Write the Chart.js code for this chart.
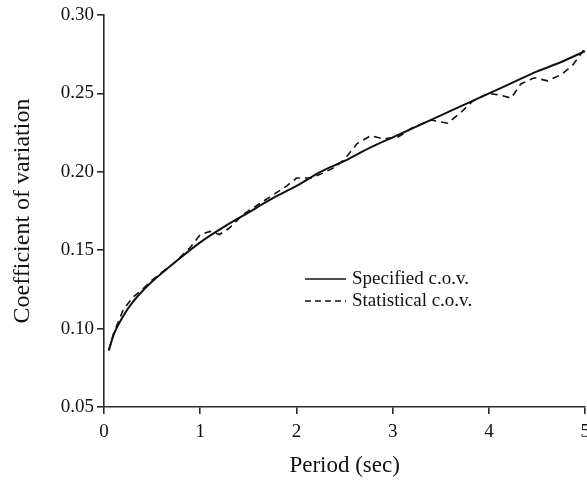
<!DOCTYPE html>
<html>
<head>
<meta charset="utf-8">
<script src="https://cdn.jsdelivr.net/npm/chart.js@4/dist/chart.umd.min.js"></script>
<style>
  html, body { margin: 0; padding: 0; background: #fff; overflow: hidden; }
  #wrap { position: relative; width: 587px; height: 481px; overflow: hidden; }
  canvas { display: block; }
</style>
</head>
<body>
<div id="wrap"><canvas id="c" width="597" height="481"></canvas></div>
<script>
// values
const specPeriods = [0.05, 0.1, 0.2, 0.3, 0.4, 0.5, 0.75, 1.0, 1.25, 1.5, 1.75, 2.0, 2.25, 2.5, 2.75, 3.0, 3.25, 3.5, 3.75, 4.0, 4.25, 4.5, 4.75, 5.0]
const specValues  = [0.086, 0.096, 0.108, 0.117, 0.124, 0.130, 0.143, 0.155, 0.165, 0.174, 0.183, 0.191, 0.200, 0.207, 0.215, 0.222, 0.229, 0.236, 0.243, 0.250, 0.257, 0.264, 0.270, 0.277]

const statPeriods = [0.05, 0.1, 0.2, 0.3, 0.4, 0.5, 0.75, 0.9, 1.0, 1.1, 1.2, 1.3, 1.45, 1.6, 1.75, 1.9, 2.0, 2.15, 2.27, 2.4, 2.5, 2.63, 2.77, 2.9, 3.05, 3.2, 3.4, 3.57, 3.71, 3.83, 3.99, 4.11, 4.23, 4.33, 4.47, 4.61, 4.75, 4.87, 5.0]
const statValues  = [0.086, 0.097, 0.112, 0.120, 0.125, 0.131, 0.143, 0.152, 0.160, 0.162, 0.160, 0.164, 0.173, 0.179, 0.185, 0.191, 0.196, 0.196, 0.199, 0.203, 0.208, 0.218, 0.223, 0.221, 0.222, 0.228, 0.233, 0.231, 0.238, 0.245, 0.250, 0.249, 0.247, 0.256, 0.260, 0.258, 0.262, 0.268, 0.279]

const xTicks = [0, 1, 2, 3, 4, 5]
const yTicks = [0.05, 0.10, 0.15, 0.20, 0.25, 0.30]

const legendItems = ['Specified c.o.v.', 'Statistical c.o.v.']

const serif = 'Liberation Serif, Times New Roman, serif'
const axisColor = '#2a2a2a'
const inkColor = '#111'

const toPoints = (xs, ys) => xs.map((x, i) => ({ x, y: ys[i] }))

// legend drawn inside the plot, like the figure
const innerLegend = {
  id: 'innerLegend',
  afterDatasetsDraw(chart) {
    const ctx = chart.ctx
    const rows = [{ y: 279, dash: [] }, { y: 301, dash: [6, 4] }]
    ctx.save()
    ctx.font = '19px ' + serif
    ctx.fillStyle = inkColor
    ctx.textBaseline = 'middle'
    rows.forEach((r, i) => {
      ctx.beginPath()
      ctx.setLineDash(r.dash)
      ctx.lineWidth = 1.6
      ctx.strokeStyle = inkColor
      ctx.moveTo(305, r.y)
      ctx.lineTo(346, r.y)
      ctx.stroke()
      ctx.setLineDash([])
      ctx.fillText(legendItems[i], 352, r.y)
    })
    ctx.restore()
  }
}

new Chart(document.getElementById('c'), {
  type: 'line',
  data: {
    datasets: [
      { label: legendItems[1], data: toPoints(statPeriods, statValues), borderColor: inkColor, borderWidth: 1.6, borderDash: [7, 5], pointRadius: 0, tension: 0, fill: false },
      { label: legendItems[0], data: toPoints(specPeriods, specValues), borderColor: inkColor, borderWidth: 2, pointRadius: 0, cubicInterpolationMode: 'monotone', fill: false }
    ]
  },
  options: {
    responsive: false,
    animation: false,
    layout: { padding: { left: 0, top: 15, right: 6, bottom: 0 } },
    plugins: { legend: { display: false }, tooltip: { enabled: false } },
    scales: {
      x: {
        type: 'linear', min: 0, max: 5,
        afterBuildTicks: s => { s.ticks = xTicks.map(v => ({ value: v })) },
        afterFit: s => { s.height = 74 },
        grid: { drawOnChartArea: false, drawTicks: true, tickLength: 7, color: axisColor, lineWidth: 1.6 },
        border: { display: true, color: axisColor, width: 1.6 },
        ticks: { color: inkColor, font: { family: serif, size: 19 }, padding: 7, maxRotation: 0 },
        title: { display: true, text: 'Period (sec)', color: inkColor, font: { family: serif, size: 23 }, padding: { top: 0, bottom: 1 } }
      },
      y: {
        min: 0.05, max: 0.30,
        afterBuildTicks: s => { s.ticks = yTicks.map(v => ({ value: v })) },
        afterFit: s => { s.width = 104 },
        grid: { drawOnChartArea: false, drawTicks: true, tickLength: 7, color: axisColor, lineWidth: 1.6 },
        border: { display: true, color: axisColor, width: 1.6 },
        ticks: { color: inkColor, font: { family: serif, size: 19 }, padding: 3, callback: v => v.toFixed(2) },
        title: { display: true, text: 'Coefficient of variation', color: inkColor, font: { family: serif, size: 24 }, padding: { top: 8, bottom: 0 } }
      }
    }
  },
  plugins: [innerLegend]
})
</script>
</body>
</html>
